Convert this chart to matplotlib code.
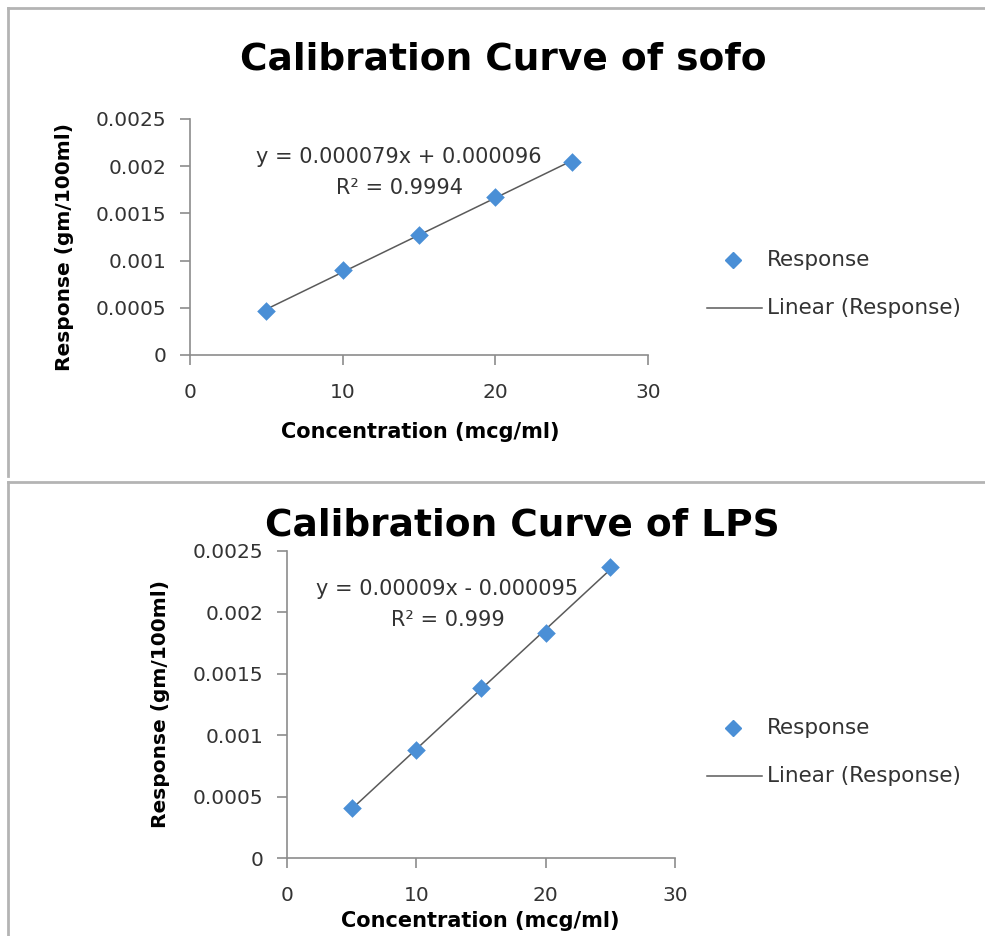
import numpy as np
import matplotlib
matplotlib.use("Agg")
import matplotlib.pyplot as plt
from matplotlib.lines import Line2D

plt.rcParams["font.family"] = ["DejaVu Sans"]

# data
conc = [5, 10, 15, 20, 25]
sofo_resp = [0.000466, 0.00090, 0.00127, 0.001674, 0.002044]
lps_resp = [0.000407, 0.00088, 0.001384, 0.00183, 0.00237]

sofo_eq = "y = 0.000079x + 0.000096"
sofo_r2 = "R² = 0.9994"
lps_eq = "y = 0.00009x - 0.000095"
lps_r2 = "R² = 0.999"

W, H = 985, 936
fig = plt.figure(figsize=(W / 100, H / 100), dpi=100)

def px(x, y):
    return x / W, 1 - y / H

# chart borders
border = "#b4b4b4"
fig.add_artist(Line2D([8 / W, 1], [1 - 8 / H] * 2, color=border, lw=2))
fig.add_artist(Line2D([8 / W] * 2, [1 - 8 / H, 1 - 476 / H], color=border, lw=2))
fig.add_artist(Line2D([8 / W, 1], [1 - 482 / H] * 2, color=border, lw=2))
fig.add_artist(Line2D([8 / W] * 2, [1 - 482 / H, 0], color=border, lw=2))

txt = "#333333"


def draw_chart(rect, y, title, eq, r2, title_xy, eq_xy, ylab_xy, xlab_xy, leg_y):
    ax = fig.add_axes(rect)
    ax.scatter(conc, y, marker="D", s=90, color="#4a8fd6", zorder=3, linewidths=0)
    m, b = np.polyfit(conc, y, 1)
    xs = np.array([conc[0], conc[-1]])
    ax.plot(xs, m * xs + b, color="#5a5a5a", lw=1.1, zorder=2)
    ax.set_xlim(0, 30)
    ax.set_ylim(0, 0.0025)
    ax.set_xticks([0, 10, 20, 30])
    ax.set_yticks([0, 0.0005, 0.001, 0.0015, 0.002, 0.0025])
    ax.set_yticklabels(["0", "0.0005", "0.001", "0.0015", "0.002", "0.0025"])
    for s in ["top", "right"]:
        ax.spines[s].set_visible(False)
    for s in ["left", "bottom"]:
        ax.spines[s].set_color("#8c8c8c")
        ax.spines[s].set_linewidth(1.2)
    ax.tick_params(direction="out", length=7, width=1.2, color="#8c8c8c",
                   labelsize=14.5, labelcolor=txt, pad=10)
    ax.tick_params(axis="x", pad=13)

    fig.text(*px(*title_xy), title, ha="center", va="center",
             fontsize=27, fontweight="bold", color="black")
    fig.text(*px(*eq_xy), eq, ha="center", va="center", fontsize=15,
             color=txt)
    fig.text(*px(eq_xy[0] + 1, eq_xy[1] + 31), r2, ha="center", va="center",
             fontsize=15, color=txt)
    fig.text(*px(*ylab_xy), "Response (gm/100ml)", rotation=90,
             ha="center", va="center", fontsize=14.5, fontweight="bold")
    fig.text(*px(*xlab_xy), "Concentration (mcg/ml)", ha="center",
             va="center", fontsize=15, fontweight="bold")

    # legend drawn by hand to the right of the plot
    fig.add_artist(Line2D([733 / W], [1 - leg_y / H], marker="D",
                          markersize=8.5, color="#4a8fd6", lw=0))
    fig.text(767 / W, 1 - leg_y / H, "Response", va="center",
             fontsize=15.5, color=txt)
    fig.add_artist(Line2D([707 / W, 762 / W], [1 - (leg_y + 48) / H] * 2,
                          color="#5a5a5a", lw=1.1))
    fig.text(767 / W, 1 - (leg_y + 48) / H, "Linear (Response)", va="center",
             fontsize=15.5, color=txt)
    return ax


draw_chart([190 / W, 1 - 355 / H, 458 / W, 236 / H], sofo_resp,
           "Calibration Curve of sofo", sofo_eq, sofo_r2,
           (503, 60), (399, 157), (65, 247), (420, 432), 260)
draw_chart([287 / W, 1 - 858 / H, 388 / W, 307 / H], lps_resp,
           "Calibration Curve of LPS", lps_eq, lps_r2,
           (522, 525), (447, 589), (160, 704), (480, 921), 728)

fig.savefig("out.png", dpi=100)
